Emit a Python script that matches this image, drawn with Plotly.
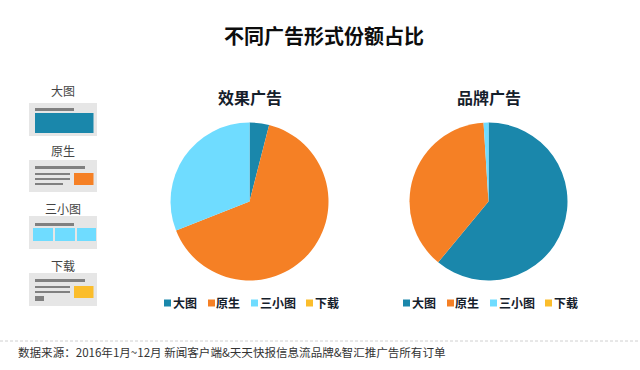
import plotly.graph_objects as go

W, H = 640, 370
title = "不同广告形式份额占比"
categories = ["大图", "原生", "三小图", "下载"]
colors = ["#1a87ab", "#f58025", "#6fdcff", "#fbbd2b"]
effect_values = [4, 65, 31, 0]
brand_values = [61, 38, 1, 0]
pie_titles = ["效果广告", "品牌广告"]
source = "数据来源：2016年1月~12月 新闻客户端&天天快报信息流品牌&智汇推广告所有订单"
FONT = "Noto Sans CJK SC"
INK = "#15202b"
GREY = "#808080"
PANEL = "#e6e6e6"

def px(v): return v / W
def py(v): return 1 - v / H

def pie(values, cx, cy=201.5, r=79):
    return go.Pie(
        labels=categories, values=values, sort=False, direction="clockwise", rotation=0,
        marker=dict(colors=colors, line=dict(width=0)), textinfo="none", hoverinfo="label+percent",
        showlegend=False,
        domain=dict(x=[px(cx - r), px(cx + r)], y=[py(cy + r), py(cy - r)]),
    )

fig = go.Figure([pie(effect_values, 249.5), pie(brand_values, 488.5)])
shapes, ann = [], []

def rect(x0, y0, x1, y1, c):
    shapes.append(dict(type="rect", xref="paper", yref="paper", x0=px(x0), x1=px(x1),
                       y0=py(y1), y1=py(y0), fillcolor=c, line=dict(width=0), layer="below"))

def text(x, y, s, size, color=INK, bold=False, anchor="center"):
    ann.append(dict(xref="paper", yref="paper", x=px(x), y=py(y), text=s, showarrow=False,
                    xanchor=anchor, yanchor="middle", xshift=-3 if anchor == "left" else 0,
                    font=dict(family=FONT, size=size, color=color, weight=700 if bold else 400)))

text(323.5, 35, title, 20, "#0d0d0d", True)
text(249.5, 97, pie_titles[0], 16, INK, True)
text(488.5, 97, pie_titles[1], 16, INK, True)

# legends
sq_l = [164, 208, 251, 306]
tx_l = [174, 217, 261, 316]
for off in (0, 239):
    for i, cat in enumerate(categories):
        rect(sq_l[i] + off, 299.5, sq_l[i] + off + 7, 306.5, colors[i])
        text(tx_l[i] + off, 302.5, cat, 12, INK, True, "left")

# left icon panels
for i, (cat, y0, y1, ty) in enumerate([(categories[0], 103, 136, 91), (categories[1], 160, 192, 151),
                                       (categories[2], 216, 249, 209), (categories[3], 273, 306, 266)]):
    rect(29, y0, 97, y1, PANEL)
    text(63, ty - 0.5, cat, 12, "#444444")
rect(35, 108, 74, 111, GREY)
rect(35, 113, 93.5, 133, colors[0])

rect(35, 166, 85, 169, GREY)
rect(35, 173, 70, 175, GREY)
rect(35, 178, 70, 180, GREY)
rect(35, 183, 63, 185, GREY)
rect(74, 173, 93.5, 185, colors[1])

rect(35, 223, 74, 226, GREY)
rect(33, 228, 53, 241, colors[2])
rect(55, 228, 75, 241, colors[2])
rect(77, 228, 96, 241, colors[2])

rect(35, 279, 85, 282, GREY)
rect(35, 286, 70, 288, GREY)
rect(35, 291, 70, 293, GREY)
rect(35, 296, 44, 301, GREY)
rect(74, 286, 93.5, 298, colors[3])

# footer
shapes.append(dict(type="line", xref="paper", yref="paper", x0=0, x1=1, y0=py(341), y1=py(341),
                   line=dict(color="#d0d0d0", width=1, dash="3px,2px")))
text(19, 352, source, 11.55, "#333333", False, "left")

fig.update_layout(width=W, height=H, margin=dict(l=0, r=0, t=0, b=0), paper_bgcolor="white",
                  plot_bgcolor="white", shapes=shapes, annotations=ann, font=dict(family=FONT))
fig.write_html("out.html", config=dict(displayModeBar=False), default_width=W, default_height=H,
               post_script="document.body.style.margin='0';document.body.style.overflow='hidden';")
